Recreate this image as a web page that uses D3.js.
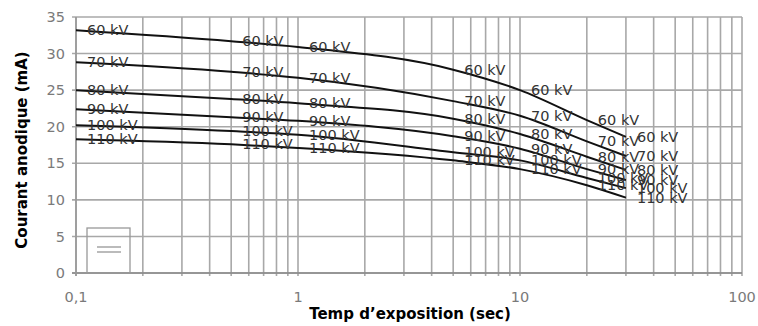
<!DOCTYPE html>
<html><head><meta charset="utf-8">
<script src="https://cdn.jsdelivr.net/npm/d3@7"></script>
<style>
body{margin:0;background:#fff;}
svg{display:block;font-family:"DejaVu Sans",Arial,sans-serif;}
</style></head>
<body><svg id="c" width="758" height="326"></svg>
<script>
const times = [0.1, 0.5, 1, 5, 10, 20, 30];
const seriesNames = ["60 kV", "70 kV", "80 kV", "90 kV", "100 kV", "110 kV"];
const kv60  = [33.2, 31.7, 30.9, 27.8, 25.0, 20.9, 18.6];
const kv70  = [28.8, 27.5, 26.7, 23.5, 21.5, 18.0, 16.0];
const kv80  = [25.0, 23.8, 23.2, 21.1, 19.0, 15.9, 14.1];
const kv90  = [22.4, 21.3, 20.8, 18.7, 17.0, 14.2, 12.7];
const kv100 = [20.2, 19.4, 18.9, 16.5, 15.4, 13.0, 11.6];
const kv110 = [18.3, 17.6, 17.1, 15.4, 14.2, 12.0, 10.3];
const seriesValues = [kv60, kv70, kv80, kv90, kv100, kv110];
const xTickValues = [0.1, 1, 10, 100];
const xTickLabels = ["0,1", "1", "10", "100"];
const yTickValues = [0, 5, 10, 15, 20, 25, 30, 35];
const xTitle = "Temp d\u2019exposition (sec)";
const yTitle = "Courant anodique (mA)";

const svg = d3.select("#c");
const L = 76, R = 742, T = 17, B = 273;
const x = d3.scaleLog().domain([0.1, 100]).range([L, R]);
const y = d3.scaleLinear().domain([0, 35]).range([B, T]);

// vertical grid (log minor)
const vGrid = [];
for (let d = 0.1; d < 100; d *= 10) for (let k = 1; k <= 9; k++) vGrid.push(+(d * k).toPrecision(3));
vGrid.push(100);
const grid = svg.append("g");
grid.selectAll("line.v").data(vGrid).join("line")
  .attr("x1", d => x(d)).attr("x2", d => x(d))
  .attr("y1", T).attr("y2", B + 3)
  .attr("stroke", "#a8a8a8").attr("stroke-width", 1.6);
grid.selectAll("line.h").data(yTickValues).join("line")
  .attr("x1", L - 4).attr("x2", R)
  .attr("y1", d => y(d)).attr("y2", d => y(d))
  .attr("stroke", "#a8a8a8").attr("stroke-width", 1.6);
svg.append("line").attr("x1", L - 4).attr("x2", R).attr("y1", B).attr("y2", B)
  .attr("stroke", "#888").attr("stroke-width", 1.6);
svg.append("line").attr("x1", L).attr("x2", L).attr("y1", T).attr("y2", B + 3)
  .attr("stroke", "#999").attr("stroke-width", 1.6);

// tick labels
svg.append("g").selectAll("text").data(yTickValues).join("text")
  .attr("x", 65).attr("y", d => y(d)).attr("dy", "0.35em")
  .attr("text-anchor", "end").attr("font-size", 14.5).attr("fill", "#7a7a7a")
  .text(d => d);
svg.append("g").selectAll("text").data(xTickValues).join("text")
  .attr("x", d => x(d)).attr("y", 302)
  .attr("text-anchor", "middle").attr("font-size", 14.5).attr("fill", "#7a7a7a")
  .text((d, i) => xTickLabels[i]);

// titles
svg.append("text").attr("x", 410).attr("y", 319).attr("text-anchor", "middle")
  .attr("font-size", 15).attr("font-weight", "bold").attr("fill", "#000").text(xTitle);
svg.append("text").attr("transform", "translate(27,150) rotate(-90)")
  .attr("text-anchor", "middle").attr("font-size", 15).attr("font-weight", "bold")
  .attr("fill", "#000").text(yTitle);

// legend box
svg.append("rect").attr("x", 87).attr("y", 228).attr("width", 43).attr("height", 45)
  .attr("fill", "none").attr("stroke", "#999").attr("stroke-width", 1.3);
svg.append("line").attr("x1", 97).attr("x2", 121).attr("y1", 247).attr("y2", 247)
  .attr("stroke", "#aaa").attr("stroke-width", 1.6);
svg.append("line").attr("x1", 97).attr("x2", 121).attr("y1", 252).attr("y2", 252)
  .attr("stroke", "#aaa").attr("stroke-width", 1.6);

// lines
const line = d3.line().x((d, i) => x(times[i])).y(d => y(d)).curve(d3.curveMonotoneX);
svg.append("g").selectAll("path").data(seriesValues).join("path")
  .attr("d", d => line(d)).attr("fill", "none")
  .attr("stroke", "#111").attr("stroke-width", 2);

// data labels
seriesValues.forEach((vals, si) => {
  svg.append("g").selectAll("text").data(vals).join("text")
    .attr("x", (d, i) => x(times[i]) + 11).attr("y", d => y(d)).attr("dy", "0.35em")
    .attr("font-size", 14.5).attr("fill", "#333")
    .text(seriesNames[si]);
});
</script></body></html>
